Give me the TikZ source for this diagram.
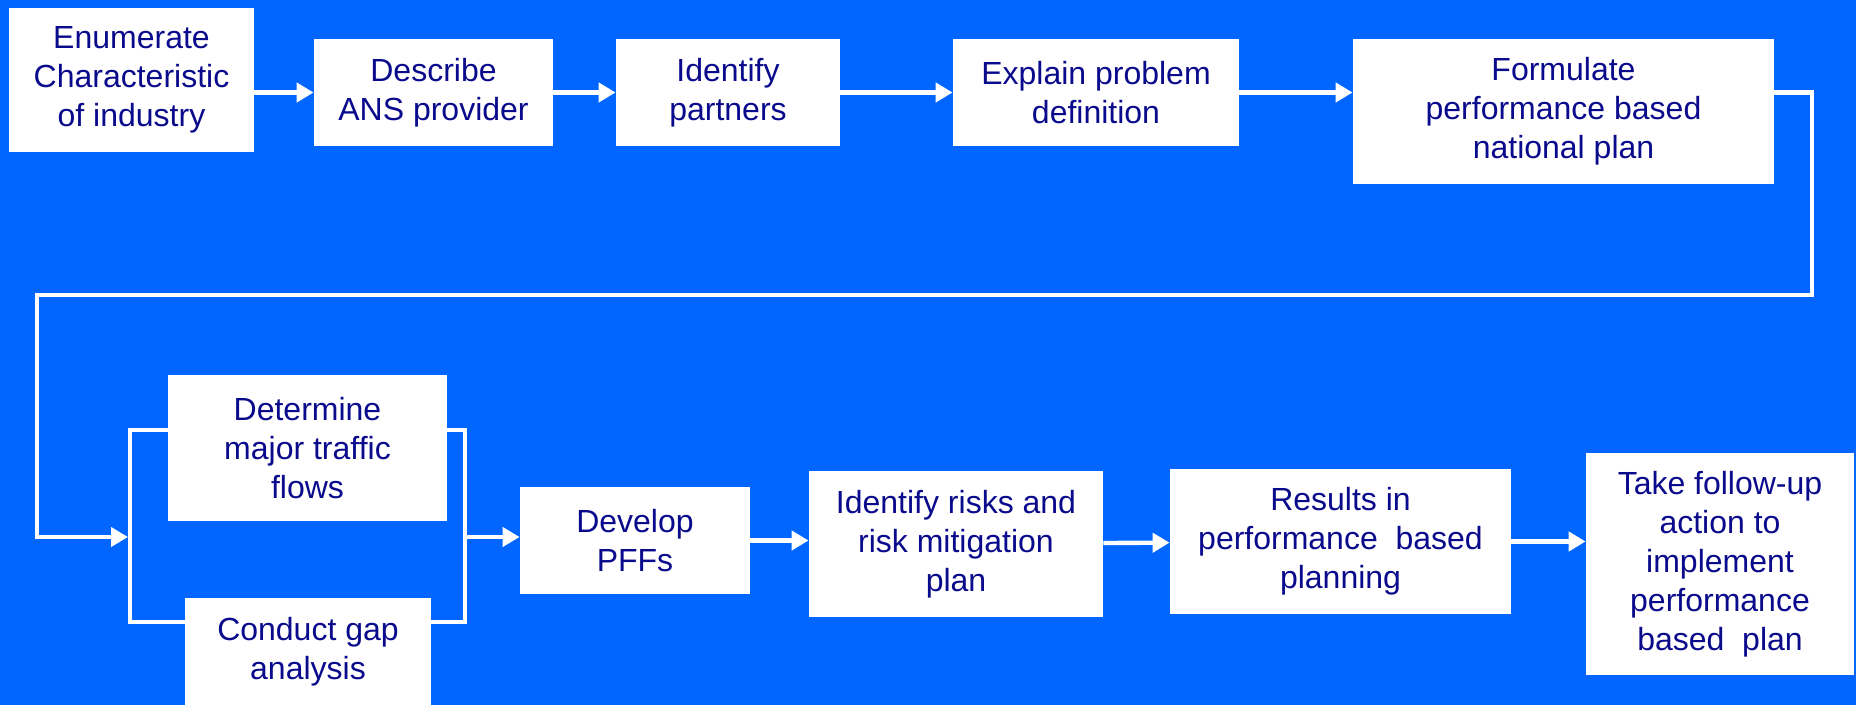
\documentclass[tikz,border=0pt]{standalone}
\usepackage{fontspec}
\setmainfont{Liberation Sans}
\usetikzlibrary{arrows.meta}
\definecolor{slide}{RGB}{0,102,255}
\definecolor{ink}{RGB}{10,10,140}
\tikzset{
  box/.style={fill=white, text=ink, align=center, inner sep=0pt, font=\fontsize{16}{19.5}\selectfont},
  link/.style={draw=white, line width=2.2pt},
  arr/.style={link, -{Triangle[length=8.5pt,width=9.5pt]}}
}

\begin{document}
\begin{tikzpicture}[x=0.5pt,y=-0.5pt]

\fill[slide] (0,0) rectangle (1856,705);
\useasboundingbox (0,0) rectangle (1856,705);

\node[box, minimum width=122.5pt, minimum height=72pt] (enum) at (131.5,80) {Enumerate\\Characteristic\\of industry};
\node[box, minimum width=119.5pt, minimum height=53.5pt] (desc) at (433.5,92.5) {Describe\\ANS provider};
\node[box, minimum width=112pt, minimum height=53.5pt] (partners) at (728,92.5) {Identify\\partners};
\node[box, minimum width=143pt, minimum height=53.5pt] (explain) at (1096,92.5) {Explain problem\\definition};
\node[box, minimum width=210.5pt, minimum height=72.5pt] (formulate) at (1563.5,111.5) {Formulate\\performance based\\national plan};

\node[box, minimum width=139.5pt, minimum height=73pt] (traffic) at (307.5,448) {Determine\\major traffic\\flows};
\node[box, minimum width=123pt, minimum height=54pt] (gap) at (308,652) {Conduct gap\\analysis};
\node[box, minimum width=115pt, minimum height=53.5pt] (pffs) at (635,540.5) {Develop\\PFFs};
\node[box, minimum width=147pt, minimum height=73pt] (risks) at (956,544) {Identify risks and\\risk mitigation\\plan};
\node[box, minimum width=170.5pt, minimum height=72.5pt] (results) at (1340.5,541.5) {Results in\\performance\ \ based\\planning};
\node[box, minimum width=134pt, minimum height=111pt] (followup) at (1720,564) {Take follow-up\\action to\\implement\\performance\\based\ \ plan};

\coordinate (loopr) at (1812,295);
\coordinate (loopl) at (37,295);
\coordinate (brin) at (128,537);
\coordinate (brtl) at (130,430);
\coordinate (brbl) at (130,622);
\coordinate (brtr) at (465,430);
\coordinate (brbr) at (465,622);

\draw[arr] (enum.east |- desc.west) -- (desc.west);
\draw[arr] (desc) -- (partners);
\draw[arr] (partners) -- (explain);
\draw[arr] (explain.east) -- (explain.east -| formulate.west);

\draw[arr] (formulate.east |- explain.east) -| (loopr) -- (loopl) |- (brin);

\draw[link] (traffic.west |- brtl) -- (brtl) -- (brbl) -- (gap.west |- brbl);
\draw[link] (traffic.east |- brtr) -- (brtr) -- (brbr) -- (gap.east |- brbr);

\draw[arr] (brtr |- brin) -- (pffs.west |- brin);
\draw[arr] (pffs.east) -- (pffs.east -| risks.west);
\draw[arr] (risks) -- (results);
\draw[arr] (results.east) -- (results.east -| followup.west);

\end{tikzpicture}
\end{document}
